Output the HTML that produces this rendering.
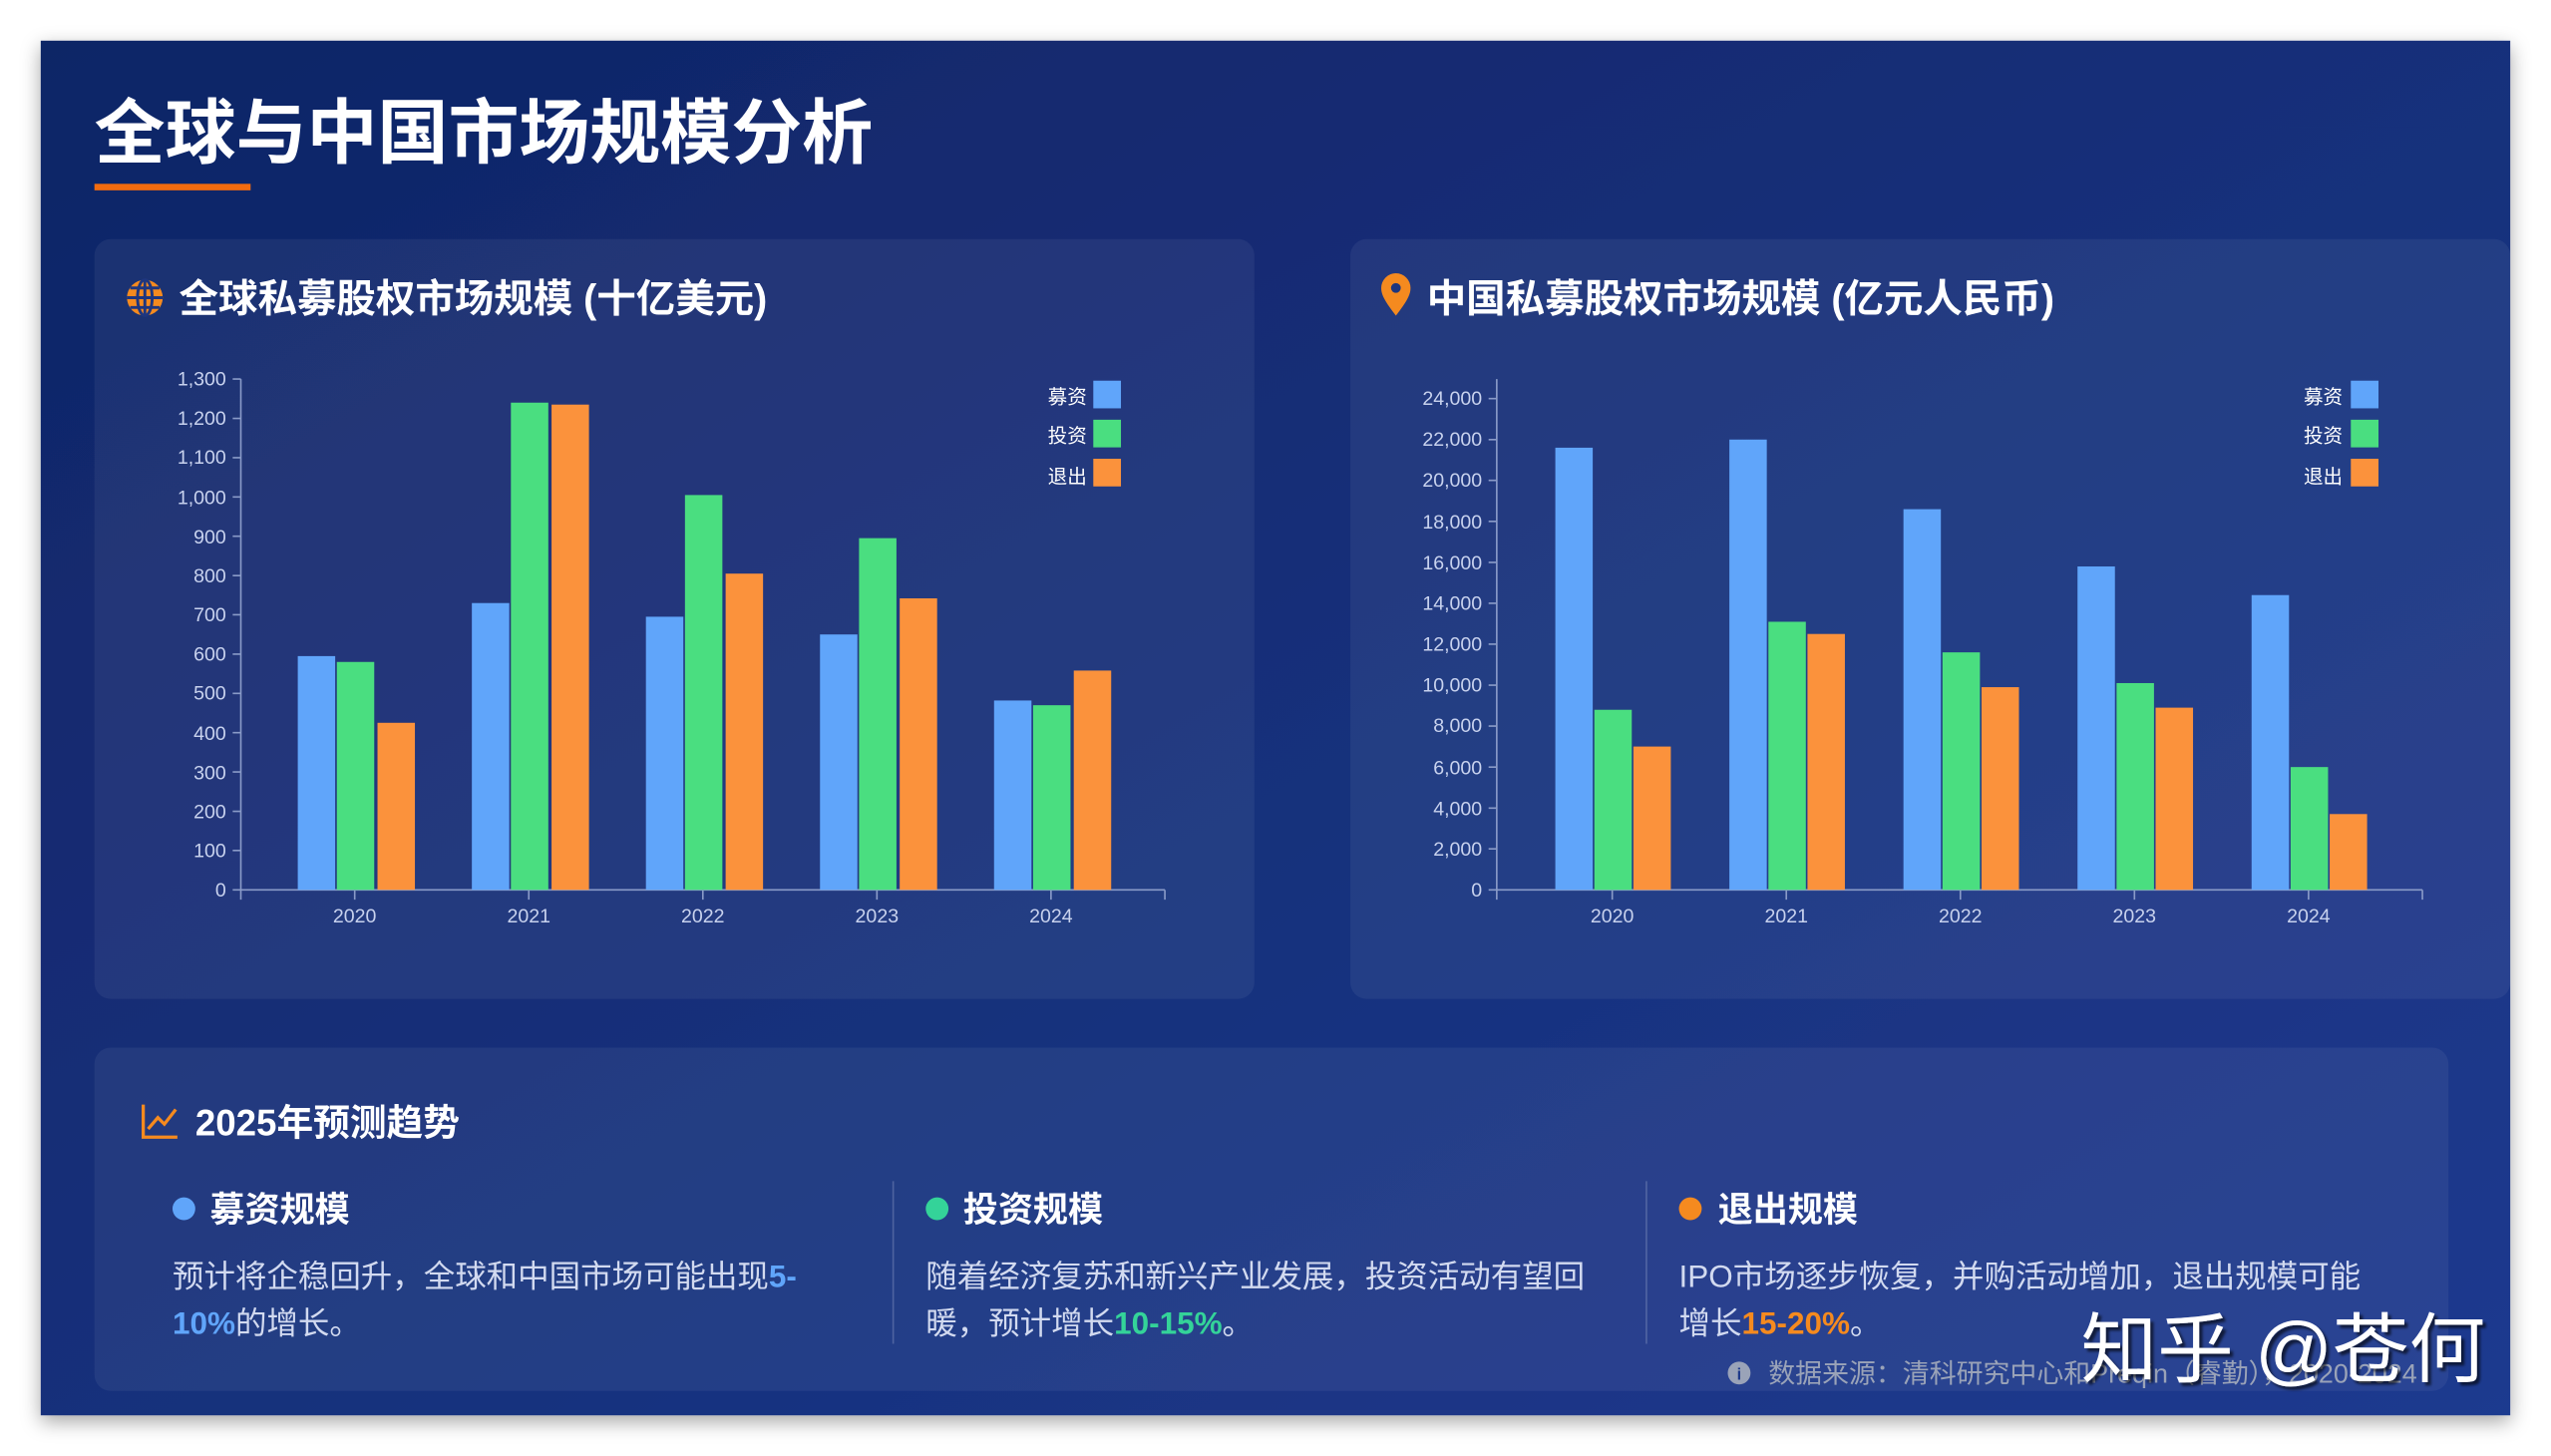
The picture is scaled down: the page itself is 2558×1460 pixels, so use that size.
<!DOCTYPE html>
<html><head><meta charset="utf-8"><style>
html,body{margin:0;padding:0;background:#fff;width:2558px;height:1460px;overflow:hidden}
svg{display:block}
text{font-family:"Liberation Sans","Noto Sans CJK SC",sans-serif}
</style></head><body>
<svg width="2558" height="1460" viewBox="0 0 1568 895" xmlns="http://www.w3.org/2000/svg">
<defs>
<linearGradient id="bg" x1="0" y1="0" x2="1" y2="1"><stop offset="0" stop-color="#0f2566"/><stop offset="1" stop-color="#1e3a8f"/></linearGradient>
<filter id="sh" x="-5%" y="-5%" width="110%" height="115%"><feDropShadow dx="0" dy="4" stdDeviation="6" flood-color="#000" flood-opacity="0.35"/></filter>
<filter id="ts"><feDropShadow dx="2" dy="2" stdDeviation="0.8" flood-color="#000" flood-opacity="0.6"/></filter>
</defs>
<rect width="1568" height="895" fill="#fff"/>
<rect x="25" y="25" width="1518" height="845" fill="url(#bg)" filter="url(#sh)"/>
<text x="58" y="97" font-size="43.5" font-weight="bold" fill="#fff">全球与中国市场规模分析</text>
<rect x="58" y="113" width="96" height="4" fill="#f26b0f"/>
<rect x="58" y="147" width="713" height="467" rx="10" fill="#ffffff" fill-opacity="0.06"/>
<rect x="830" y="147" width="713" height="467" rx="10" fill="#ffffff" fill-opacity="0.06"/>
<rect x="58" y="644" width="1447" height="211" rx="10" fill="#ffffff" fill-opacity="0.06"/>
<circle cx="89" cy="183" r="11" fill="#f58a1f"/>
<path d="M78 183h22M89 172v22M80 177h18M80 189h18" stroke="#1e367f" stroke-width="1.8" fill="none"/>
<ellipse cx="89" cy="183" rx="4.5" ry="11" stroke="#1e367f" stroke-width="1.8" fill="none"/>
<text x="110" y="192" font-size="24.2" font-weight="bold" fill="#fff">全球私募股权市场规模 (十亿美元)</text>
<path d="M858 194 C851 185 849 181 849 177 a9 9 0 0 1 18 0 c0 4 -2 8 -9 17z" fill="#f58a1f"/>
<circle cx="858" cy="177" r="3" fill="#1e367f"/>
<text x="877" y="192" font-size="24.2" font-weight="bold" fill="#fff">中国私募股权市场规模 (亿元人民币)</text>

<g stroke="#8a9bc8" stroke-width="1" fill="none">
<path d="M148 233V553M148 547H716M716 547v6"/>
<path d="M218 547v6M325 547v6M432 547v6M539 547v6M646 547v6"/>
<path d="M143 547h5M143 522.8h5M143 498.7h5M143 474.5h5M143 450.4h5M143 426.2h5M143 402.1h5M143 377.9h5M143 353.8h5M143 329.6h5M143 305.5h5M143 281.3h5M143 257.2h5M143 233h5"/>
</g>
<g font-size="12" fill="#c8d2ee" text-anchor="end">
<text x="139" y="551">0</text><text x="139" y="527">100</text><text x="139" y="503">200</text><text x="139" y="479">300</text><text x="139" y="455">400</text><text x="139" y="430">500</text><text x="139" y="406">600</text><text x="139" y="382">700</text><text x="139" y="358">800</text><text x="139" y="334">900</text><text x="139" y="310">1,000</text><text x="139" y="285">1,100</text><text x="139" y="261">1,200</text><text x="139" y="237">1,300</text>
</g>
<g font-size="12" fill="#c8d2ee" text-anchor="middle">
<text x="218" y="567">2020</text><text x="325" y="567">2021</text><text x="432" y="567">2022</text><text x="539" y="567">2023</text><text x="646" y="567">2024</text>
</g>
<g>
<rect x="183" y="403.3" width="23" height="143.7" fill="#60a5fa"/><rect x="207" y="406.9" width="23" height="140.1" fill="#4ade80"/><rect x="232" y="444.3" width="23" height="102.7" fill="#fb923c"/>
<rect x="290" y="370.7" width="23" height="176.3" fill="#60a5fa"/><rect x="314" y="247.5" width="23" height="299.5" fill="#4ade80"/><rect x="339" y="248.7" width="23" height="298.3" fill="#fb923c"/>
<rect x="397" y="379.1" width="23" height="167.9" fill="#60a5fa"/><rect x="421" y="304.3" width="23" height="242.7" fill="#4ade80"/><rect x="446" y="352.6" width="23" height="194.4" fill="#fb923c"/>
<rect x="504" y="390" width="23" height="157" fill="#60a5fa"/><rect x="528" y="330.8" width="23" height="216.2" fill="#4ade80"/><rect x="553" y="367.8" width="23" height="179.2" fill="#fb923c"/>
<rect x="611" y="430.6" width="23" height="116.4" fill="#60a5fa"/><rect x="635" y="433.5" width="23" height="113.5" fill="#4ade80"/><rect x="660" y="412.2" width="23" height="134.8" fill="#fb923c"/>
</g>
<g font-size="12" fill="#fff" text-anchor="end">
<text x="668" y="248">募资</text><text x="668" y="272">投资</text><text x="668" y="297">退出</text>
</g>
<rect x="672" y="234" width="17" height="17" fill="#60a5fa"/><rect x="672" y="258" width="17" height="17" fill="#4ade80"/><rect x="672" y="282" width="17" height="17" fill="#fb923c"/>

<g stroke="#8a9bc8" stroke-width="1" fill="none">
<path d="M920 233V553M920 547H1489M1489 547v6"/>
<path d="M991 547v6M1098 547v6M1205 547v6M1312 547v6M1419 547v6"/>
<path d="M915 547h5M915 521.8h5M915 496.7h5M915 471.5h5M915 446.3h5M915 421.2h5M915 396h5M915 370.8h5M915 345.7h5M915 320.5h5M915 295.3h5M915 270.2h5M915 245h5"/>
</g>
<g font-size="12" fill="#c8d2ee" text-anchor="end">
<text x="911" y="551">0</text><text x="911" y="526">2,000</text><text x="911" y="501">4,000</text><text x="911" y="476">6,000</text><text x="911" y="450">8,000</text><text x="911" y="425">10,000</text><text x="911" y="400">12,000</text><text x="911" y="375">14,000</text><text x="911" y="350">16,000</text><text x="911" y="325">18,000</text><text x="911" y="299">20,000</text><text x="911" y="274">22,000</text><text x="911" y="249">24,000</text>
</g>
<g font-size="12" fill="#c8d2ee" text-anchor="middle">
<text x="991" y="567">2020</text><text x="1098" y="567">2021</text><text x="1205" y="567">2022</text><text x="1312" y="567">2023</text><text x="1419" y="567">2024</text>
</g>
<g>
<rect x="956" y="275.2" width="23" height="271.8" fill="#60a5fa"/><rect x="980" y="436.3" width="23" height="110.7" fill="#4ade80"/><rect x="1004" y="458.9" width="23" height="88.1" fill="#fb923c"/>
<rect x="1063" y="270.2" width="23" height="276.8" fill="#60a5fa"/><rect x="1087" y="382.2" width="23" height="164.8" fill="#4ade80"/><rect x="1111" y="389.7" width="23" height="157.3" fill="#fb923c"/>
<rect x="1170" y="313" width="23" height="234" fill="#60a5fa"/><rect x="1194" y="401" width="23" height="146" fill="#4ade80"/><rect x="1218" y="422.4" width="23" height="124.6" fill="#fb923c"/>
<rect x="1277" y="348.2" width="23" height="198.8" fill="#60a5fa"/><rect x="1301" y="419.9" width="23" height="127.1" fill="#4ade80"/><rect x="1325" y="435" width="23" height="112" fill="#fb923c"/>
<rect x="1384" y="365.8" width="23" height="181.2" fill="#60a5fa"/><rect x="1408" y="471.5" width="23" height="75.5" fill="#4ade80"/><rect x="1432" y="500.4" width="23" height="46.6" fill="#fb923c"/>
</g>
<g font-size="12" fill="#fff" text-anchor="end">
<text x="1440" y="248">募资</text><text x="1440" y="272">投资</text><text x="1440" y="297">退出</text>
</g>
<rect x="1445" y="234" width="17" height="17" fill="#60a5fa"/><rect x="1445" y="258" width="17" height="17" fill="#4ade80"/><rect x="1445" y="282" width="17" height="17" fill="#fb923c"/>

<path d="M88 679v20h21M91 694l6-7 4 4 7-9" stroke="#f58a1f" stroke-width="2" fill="none"/>
<text x="120" y="698" font-size="22.5" font-weight="bold" fill="#fff">2025年预测趋势</text>
<line x1="549" y1="726" x2="549" y2="826" stroke="#6b7db0" stroke-opacity="0.6"/>
<line x1="1012" y1="726" x2="1012" y2="826" stroke="#6b7db0" stroke-opacity="0.6"/>
<circle cx="113" cy="743" r="7" fill="#60a5fa"/>
<text x="129" y="751" font-size="21.5" font-weight="bold" fill="#fff">募资规模</text>
<circle cx="576" cy="743" r="7" fill="#34d399"/>
<text x="592" y="751" font-size="21.5" font-weight="bold" fill="#fff">投资规模</text>
<circle cx="1039" cy="743" r="7" fill="#f58a1f"/>
<text x="1056" y="751" font-size="21.5" font-weight="bold" fill="#fff">退出规模</text>
<g font-size="19.3" fill="#d2daf0">
<text x="106" y="791">预计将企稳回升，全球和中国市场可能出现<tspan fill="#60a5fa" font-weight="bold">5-</tspan></text>
<text x="106" y="820"><tspan fill="#60a5fa" font-weight="bold">10%</tspan>的增长。</text>
<text x="569" y="791">随着经济复苏和新兴产业发展，投资活动有望回</text>
<text x="569" y="820">暖，预计增长<tspan fill="#34d399" font-weight="bold">10-15%</tspan>。</text>
<text x="1032" y="791">IPO市场逐步恢复，并购活动增加，退出规模可能</text>
<text x="1032" y="820">增长<tspan fill="#f58a1f" font-weight="bold">15-20%</tspan>。</text>
</g>
<circle cx="1069" cy="844" r="7" fill="#9aa3b8"/>
<text x="1069" y="848" font-size="10" font-weight="bold" fill="#1e3a8a" text-anchor="middle">i</text>
<text x="1087" y="850" font-size="16.5" fill="#9aa3b8">数据来源：清科研究中心和Preqin（睿勤），2020-2024</text>
<text x="1279" y="846" font-size="47" fill="#fff" filter="url(#ts)">知乎 @苍何</text>
</svg>
</body></html>
